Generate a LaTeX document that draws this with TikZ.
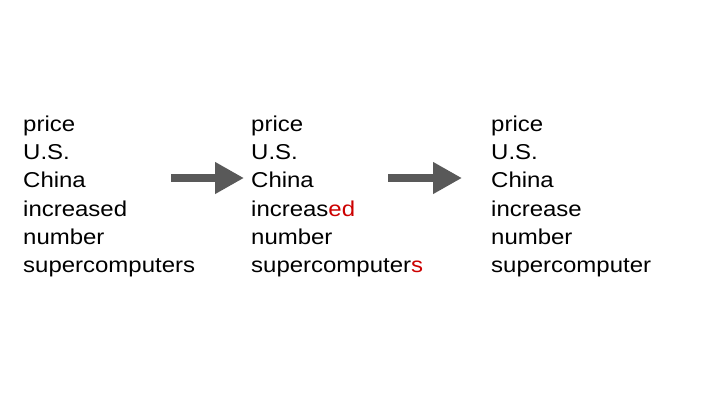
\documentclass[tikz,border=0pt]{standalone}
\usepackage{fontspec}
\setmainfont{Liberation Sans}[FakeStretch=1.115]
\usetikzlibrary{arrows.meta}
\definecolor{arrowgray}{RGB}{89,89,89}
\definecolor{suffixred}{RGB}{204,0,0}
\newcommand{\suf}[1]{\textcolor{suffixred}{#1}}

\begin{document}
\begin{tikzpicture}[x=1bp, y=-1bp,
  word/.style={anchor=base west, inner sep=0pt, font=\fontsize{21.5bp}{26bp}\selectfont},
  stemarrow/.style={arrowgray, line width=8bp, -{Triangle[length=29bp,width=30bp]}}]

\useasboundingbox (0,0) rectangle (720,405);

% word lists
\foreach \w [count=\i] in {price, U.S., China, increased, number, supercomputers}
  \node[word] (a\i) at (23, 103+28.3*\i) {\w};
\foreach \w [count=\i] in {price, U.S., China, {increas\suf{ed}}, number, {supercomputer\suf{s}}}
  \node[word] (b\i) at (251, 103+28.3*\i) {\w};
\foreach \w [count=\i] in {price, U.S., China, increase, number, supercomputer}
  \node[word] (c\i) at (491, 103+28.3*\i) {\w};

% arrows
\coordinate (p1) at (171,178);
\coordinate (q1) at (244,178);
\coordinate (p2) at (388,178);
\coordinate (q2) at (462,178);
\draw[stemarrow] (p1) -- (q1);
\draw[stemarrow] (p2) -- (q2);
\end{tikzpicture}
\end{document}
